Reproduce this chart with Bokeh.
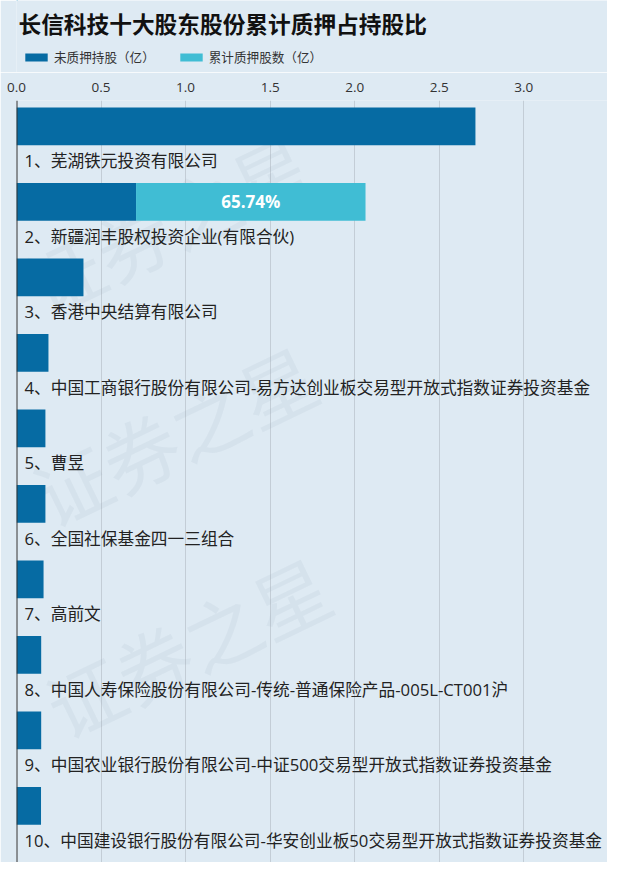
from bokeh.plotting import figure
from bokeh.layouts import column
from bokeh.models import (Range1d, FixedTicker, Span, Legend, LegendItem,
                          ColumnDataSource, NumeralTickFormatter)
from bokeh.core.properties import value
from bokeh.embed import file_html
from bokeh.resources import INLINE

# ---------------- data ----------------
chart_title = "长信科技十大股东股份累计质押占持股比"
names = [
    "1、芜湖铁元投资有限公司",
    "2、新疆润丰股权投资企业(有限合伙)",
    "3、香港中央结算有限公司",
    "4、中国工商银行股份有限公司-易方达创业板交易型开放式指数证券投资基金",
    "5、曹昱",
    "6、全国社保基金四一三组合",
    "7、高前文",
    "8、中国人寿保险股份有限公司-传统-普通保险产品-005L-CT001沪",
    "9、中国农业银行股份有限公司-中证500交易型开放式指数证券投资基金",
    "10、中国建设银行股份有限公司-华安创业板50交易型开放式指数证券投资基金",
]
unpledged = [2.714, 0.707, 0.396, 0.189, 0.171, 0.171, 0.160, 0.146, 0.146, 0.145]
pledged = [0.0, 1.357, 0.0, 0.0, 0.0, 0.0, 0.0, 0.0, 0.0, 0.0]
pledge_ratio_labels = ["", "65.74%", "", "", "", "", "", "", "", ""]
legend_labels = ["未质押持股（亿）", "累计质押股数（亿）"]
x_ticks = [0.0, 0.5, 1.0, 1.5, 2.0, 2.5, 3.0]
watermark = "证券之星"

# ---------------- style ----------------
BG = "#DEEAF3"
DARK = "#066BA3"
LIGHT = "#40BDD4"
CJK = "'Open Sans', 'Noto Sans CJK SC'"
W = 607
H_HEAD = 72
H_MAIN = 862 - H_HEAD
LEFT = 16          # frame left edge (both plots share it inside the column)
FW = W - LEFT      # frame width

# ---------------- header: title + legend ----------------
head = figure(
    width=W, height=H_HEAD, x_range=Range1d(0, FW), y_range=Range1d(H_HEAD, 0),
    x_axis_location=None, y_axis_location=None,
    output_backend="svg", toolbar_location=None,
    min_border_left=LEFT, min_border_right=0, min_border_top=0, min_border_bottom=0,
    background_fill_color=BG, border_fill_color=BG, outline_line_color=None,
)
head.grid.visible = False
head.text(x=[2], y=[22.5], text=[chart_title],
          text_font=value("Noto Sans CJK SC"), text_font_style="bold",
          text_font_size="22.7px", text_color="#111111", text_baseline="middle")
# legend swatch renderers (kept outside the visible area)
sw_un = head.hbar(y=[-1000], left=[0], right=[1], height=1, fill_color=DARK, line_color=None)
sw_pl = head.hbar(y=[-1000], left=[0], right=[1], height=1, fill_color=LIGHT, line_color=None)
legend = Legend(
    items=[LegendItem(label=legend_labels[0], renderers=[sw_un]),
           LegendItem(label=legend_labels[1], renderers=[sw_pl])],
    orientation="horizontal", location=(2, 2),
    margin=0, padding=4, spacing=22, label_standoff=4,
    glyph_width=28, glyph_height=10, label_height=14,
    label_text_font=CJK, label_text_font_size="12.6px", label_text_color="#333333",
    background_fill_alpha=0, border_line_alpha=0,
)
head.add_layout(legend)

# ---------------- main chart ----------------
n = len(names)
rows = list(range(n))
bar_y = [r + 0.25 for r in rows]
label_y = [r + 0.702 for r in rows]
total = [u + p for u, p in zip(unpledged, pledged)]
pct_x = [u + p / 2 for u, p in zip(unpledged, pledged)]

src = ColumnDataSource(dict(
    y=bar_y, ly=label_y, name=names, un=unpledged, tot=total,
    zero=[0.0] * n, px=pct_x, pct=pledge_ratio_labels,
))

p = figure(
    width=W, height=H_MAIN,
    x_range=Range1d(0, FW / 169.1), y_range=Range1d(10.0, -0.0927),
    x_axis_location="above", y_axis_location=None,
    output_backend="svg", toolbar_location=None,
    min_border_left=LEFT, min_border_right=0, min_border_bottom=0,
    min_border_top=100 - H_HEAD,
    background_fill_color=BG, border_fill_color=BG, outline_line_color=None,
)

# watermark
wm_x = [0.08, 0.12, 0.2]
wm_y = [2.4, 5.2, 8.0]
p.text(x=wm_x, y=wm_y, text=[watermark] * len(wm_x), angle=0.45,
       text_font=value("Noto Sans CJK SC"), text_font_size="76px",
       text_color="#8ea3b5", text_alpha=0.11, text_baseline="middle")

r_un = p.hbar(y="y", left="zero", right="un", height=0.497, source=src,
              fill_color=DARK, line_color=None)
r_pl = p.hbar(y="y", left="un", right="tot", height=0.497, source=src,
              fill_color=LIGHT, line_color=None)

p.text(x="px", y="y", text="pct", source=src, text_color="white",
       text_font=value("Open Sans"), text_font_style="bold", text_font_size="17px",
       text_align="center", text_baseline="middle")

p.text(x="zero", y="ly", text="name", source=src, x_offset=8,
       text_font=value(CJK), text_font_size="16.7px", text_color="#222222",
       text_baseline="middle")

p.add_layout(Span(location=0, dimension="height", line_color="#333333", line_width=2))

ax = p.xaxis[0]
ax.ticker = FixedTicker(ticks=x_ticks)
ax.formatter = NumeralTickFormatter(format="0.0")
ax.axis_line_color = None
ax.major_tick_line_color = None
ax.minor_tick_line_color = None
ax.major_label_text_font = "Open Sans"
ax.major_label_text_font_size = "13.5px"
ax.major_label_text_color = "#333333"
ax.major_label_standoff = 3

p.xgrid.ticker = FixedTicker(ticks=x_ticks)
p.xgrid.grid_line_color = "#C3CDD6"
p.ygrid.grid_line_color = None

layout = column(head, p, spacing=0)
open("out.html", "w").write(file_html(layout, INLINE))
